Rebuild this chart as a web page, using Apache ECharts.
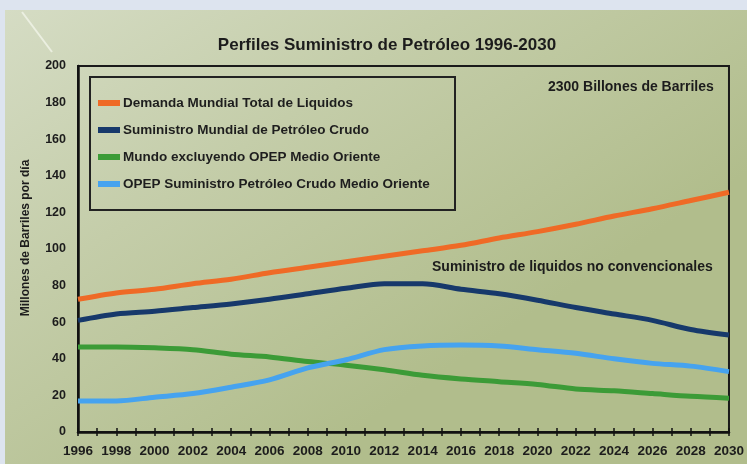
<!doctype html>
<html>
<head>
<meta charset="utf-8">
<title>Perfiles Suministro de Petróleo 1996-2030</title>
<script src="https://cdn.jsdelivr.net/npm/echarts@6/dist/echarts.min.js"></script>
<style>
html,body{margin:0;padding:0;background:#dde4ef;}
#main{width:747px;height:464px;}
</style>
</head>
<body>
<div id="main"></div>
<script>
// datos (millones de barriles por dia)
var years = [1996,1998,2000,2002,2004,2006,2008,2010,2012,2014,2016,2018,2020,2022,2024,2026,2028,2030];
var demanda   = [72.5,76,78,81,83.5,87,90,93,96,99,102,106,109.5,113.5,118,122,126.5,131];
var crudo     = [61,64.5,66,68,70,72.5,75.5,78.5,81,81,78,75.5,72,68,64.5,61,56,53];
var sinOpep   = [46.5,46.5,46,45,42.5,41,38.5,36.5,34,31,29,27.5,26,23.5,22.5,21,19.5,18.5];
var opepMO    = [17,17,19,21,24.5,28.5,35,39.5,45,47,47.5,47,45,43,40,37.5,36,33];
var names = ['Demanda Mundial Total de Liquidos','Suministro Mundial de Petróleo Crudo','Mundo excluyendo OPEP Medio Oriente','OPEP Suministro Petróleo Crudo Medio Oriente'];
var colors = ['#ef6a26','#17396b','#3c9b37','#46a3ef'];

function pairs(arr){
    var out=[];
    for(var i=0;i<years.length;i++){ out.push([years[i],arr[i]]); }
    return out;
}

var chart = echarts.init(document.getElementById('main'));
var font = 'Liberation Sans, Arial, sans-serif';
var serie = function(idx, arr){
    return {
        name: names[idx], type: 'line', data: pairs(arr), smooth: 0.3,
        symbol: 'none', lineStyle: {width: 5, color: colors[idx]},
        itemStyle: {color: colors[idx]}, z: 5
    };
};

chart.setOption({
    animation: false,
    backgroundColor: '#dde4ef',
    title: {
        text: 'Perfiles Suministro de Petróleo 1996-2030',
        left: 382, top: 32, textAlign: 'center',
        textStyle: {fontFamily: font, fontSize: 17, fontWeight: 'bold', color: '#1c1c1c'}
    },
    legend: {
        data: names, orient: 'vertical', left: 98, top: 96, padding: 0,
        itemWidth: 22, itemHeight: 6, itemGap: 13, icon: 'rect',
        textStyle: {fontFamily: font, fontSize: 13.5, fontWeight: 'bold', color: '#1e1e1e', lineHeight: 14, padding: [0, 0, 0, -2]}
    },
    grid: {left: 78, right: 18, top: 66, bottom: 32, show: true, borderColor: '#1a1a1a', borderWidth: 2, containLabel: false},
    xAxis: [{
        type: 'value', min: 1996, max: 2030, interval: 1,
        axisLine: {lineStyle: {color: '#111', width: 2.5}},
        axisTick: {show: true, length: 4, lineStyle: {color: '#111', width: 1.5}},
        splitLine: {show: false},
        axisLabel: {
            margin: 12, fontFamily: font, fontSize: 13.5, fontWeight: 'bold', color: '#1c1c1c',
            formatter: function(v){ return v % 2 === 0 ? String(v) : ''; }
        }
    },{
        type: 'value', min: 1996, max: 2030, interval: 1, position: 'bottom',
        axisLine: {show: false},
        axisTick: {show: true, inside: true, length: 4, lineStyle: {color: '#111', width: 1.5}},
        splitLine: {show: false}, axisLabel: {show: false}
    }],
    yAxis: {
        type: 'value', min: 0, max: 200, interval: 20,
        name: 'Millones de Barriles por día', nameLocation: 'middle', nameGap: 46, nameRotate: 90,
        nameTextStyle: {fontFamily: font, fontSize: 12, fontWeight: 'bold', color: '#1c1c1c', padding: [0, 0, 0, 22]},
        axisLine: {show: true, lineStyle: {color: '#111', width: 2.5}},
        axisTick: {show: false},
        splitLine: {show: false},
        axisLabel: {margin: 12, fontFamily: font, fontSize: 12.5, fontWeight: 'bold', color: '#1c1c1c'}
    },
    graphic: [
        {type: 'rect', z: -10, shape: {x: 5, y: 10, width: 742, height: 454},
         style: {fill: new echarts.graphic.LinearGradient(0, 0, 0.4, 1, [
            {offset: 0, color: '#d5dcc4'}, {offset: 0.45, color: '#c4cda9'}, {offset: 1, color: '#b1bd8c'}])}},
        {type: 'line', z: -9, shape: {x1: 22, y1: 12, x2: 52, y2: 52},
         style: {stroke: 'rgba(245,248,238,0.7)', lineWidth: 2}},
        {type: 'rect', z: 1, shape: {x: 90, y: 77, width: 365, height: 133},
         style: {fill: 'none', stroke: '#222', lineWidth: 2}},
        {type: 'text', z: 10, left: 548, top: 80,
         style: {text: '2300 Billones de Barriles', fill: '#1c1c1c', font: 'bold 14px ' + font}},
        {type: 'text', z: 10, left: 432, top: 260,
         style: {text: 'Suministro de liquidos no convencionales', fill: '#1c1c1c', font: 'bold 14px ' + font}}
    ],
    series: [serie(0, demanda), serie(1, crudo), serie(2, sinOpep), serie(3, opepMO)]
});
</script>
</body>
</html>
